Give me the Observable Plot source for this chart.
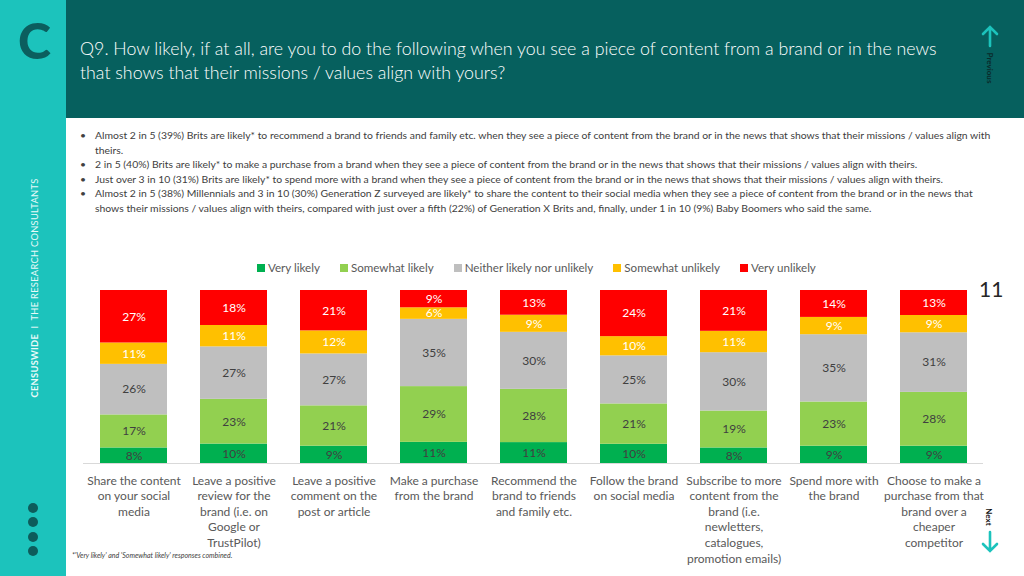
<!DOCTYPE html>
<html>
<head>
<meta charset="utf-8">
<script src="https://cdn.jsdelivr.net/npm/d3@7"></script>
<script src="https://cdn.jsdelivr.net/npm/@observablehq/plot@0.6"></script>
<style>
  html, body { margin: 0; padding: 0; }
  body { width: 1024px; height: 576px; overflow: hidden; position: relative; background: #ffffff; font-family: Lato, "Open Sans", sans-serif; }
  .abs { position: absolute; }
  #sidebar { left: 0; top: 0; width: 66px; height: 576px; background: #1cc3bc; }
  #header { left: 66px; top: 0; width: 958px; height: 118px; background: #06605e; }
  #logo { left: 18px; top: 10px; font-size: 50px; font-weight: 900; color: #0b5e5e; font-family: Lato, sans-serif; line-height: 60px; }
  #title { left: 80px; top: 36px; color: #ffffff; font-size: 17.8px; line-height: 24px; font-weight: 300; white-space: nowrap; }
  #bullets { left: 80px; top: 128px; color: #404040; font-size: 10.4px; line-height: 14.6px; white-space: nowrap; }
  #bullets .b { position: relative; padding-left: 15px; }
  #bullets .b::before { content: "•"; position: absolute; left: 0; top: 0; }
  #vert { left: 34px; top: 288px; transform: translate(-50%, -50%) rotate(-90deg); color: #e8faf9; font-size: 9.3px; white-space: nowrap; letter-spacing: 0.3px; }
  #legend { left: 257px; top: 261px; display: flex; gap: 20px; font-size: 11.6px; color: #595959; white-space: nowrap; }
  #legend .item { display: flex; align-items: center; }
  #legend .sw { width: 8px; height: 8px; margin-right: 3px; }
  #page { left: 979px; top: 276px; font-size: 21px; color: #262626; }
  #foot { left: 72px; top: 551px; font-size: 7px; font-style: italic; color: #404040; white-space: nowrap; }
  .rot { transform: translate(-50%, -50%) rotate(90deg); font-weight: 700; font-size: 8px; white-space: nowrap; }
  #chart { left: 0; top: 285px; }
</style>
</head>
<body>
<div id="sidebar" class="abs"></div>
<div id="header" class="abs"></div>
<div id="logo" class="abs">C</div>
<div id="title" class="abs">Q9. How likely, if at all, are you to do the following when you see a piece of content from a brand or in the news<br>that shows that their missions / values align with yours?</div>
<div id="bullets" class="abs">
  <div class="b">Almost 2 in 5 (39%) Brits are likely* to recommend a brand to friends and family etc. when they see a piece of content from the brand or in the news that shows that their missions / values align with<br>theirs.</div>
  <div class="b">2 in 5 (40%) Brits are likely* to make a purchase from a brand when they see a piece of content from the brand or in the news that shows that their missions / values align with theirs.</div>
  <div class="b">Just over 3 in 10 (31%) Brits are likely* to spend more with a brand when they see a piece of content from the brand or in the news that shows that their missions / values align with theirs.</div>
  <div class="b">Almost 2 in 5 (38%) Millennials and 3 in 10 (30%) Generation Z surveyed are likely* to share the content to their social media when they see a piece of content from the brand or in the news that<br>shows their missions / values align with theirs, compared with just over a fifth (22%) of Generation X Brits and, finally, under 1 in 10 (9%) Baby Boomers who said the same.</div>
</div>
<div id="vert" class="abs"><b>CENSUSWIDE</b> &nbsp;I&nbsp; THE RESEARCH CONSULTANTS</div>
<svg class="abs" style="left:0;top:0" width="66" height="576">
  <circle cx="33" cy="508" r="5" fill="#0d5c5b"/>
  <circle cx="33" cy="522" r="5" fill="#0d5c5b"/>
  <circle cx="33" cy="537" r="5" fill="#0d5c5b"/>
  <circle cx="33" cy="551" r="5" fill="#0d5c5b"/>
</svg>
<svg class="abs" style="left:975px;top:20px" width="30" height="30">
  <path d="M15 26 V8 M8 14 L15 7 L22 14" stroke="#1cc3bc" stroke-width="2.6" fill="none" stroke-linecap="round"/>
</svg>
<div class="abs rot" style="left:990px;top:68px;color:#0a2a2a;">Previous</div>
<div class="abs rot" style="left:989px;top:517px;color:#111;">Next</div>
<svg class="abs" style="left:975px;top:528px" width="30" height="30">
  <path d="M15 4 V22 M8 16 L15 23 L22 16" stroke="#1cc3bc" stroke-width="2.6" fill="none" stroke-linecap="round"/>
</svg>
<div id="legend" class="abs"></div>
<div id="page" class="abs">11</div>
<div id="chart" class="abs"></div>
<div id="foot" class="abs">*'Very likely' and 'Somewhat likely' responses combined.</div>
<script>
const categories = [
  "Share the content on your social media",
  "Leave a positive review for the brand",
  "Leave a positive comment on the post or article",
  "Make a purchase from the brand",
  "Recommend the brand to friends and family etc.",
  "Follow the brand on social media",
  "Subscribe to more content from the brand",
  "Spend more with the brand",
  "Choose to make a purchase from that brand over a cheaper competitor"
];
const tickLabels = [
  "Share the content\non your social\nmedia",
  "Leave a positive\nreview for the\nbrand (i.e. on\nGoogle or\nTrustPilot)",
  "Leave a positive\ncomment on the\npost or article",
  "Make a purchase\nfrom the brand",
  "Recommend the\nbrand to friends\nand family etc.",
  "Follow the brand\non social media",
  "Subscribe to more\ncontent from the\nbrand (i.e.\nnewletters,\ncatalogues,\npromotion emails)",
  "Spend more with\nthe brand",
  "Choose to make a\npurchase from that\nbrand over a\ncheaper\ncompetitor"
];
const seriesNames = ["Very likely", "Somewhat likely", "Neither likely nor unlikely", "Somewhat unlikely", "Very unlikely"];
const seriesColors = ["#00b050", "#92d050", "#bfbfbf", "#ffc000", "#ff0000"];
const veryLikely       = [8, 10, 9, 11, 11, 10, 8, 9, 9];
const somewhatLikely   = [17, 23, 21, 29, 28, 21, 19, 23, 28];
const neither          = [26, 27, 27, 35, 30, 25, 30, 35, 31];
const somewhatUnlikely = [11, 11, 12, 6, 9, 10, 11, 9, 9];
const veryUnlikely     = [27, 18, 21, 9, 13, 24, 21, 14, 13];

const seriesValues = [veryLikely, somewhatLikely, neither, somewhatUnlikely, veryUnlikely];
const lightLabelSeries = new Set(["Somewhat unlikely", "Very unlikely"]);
const rows = categories.flatMap((c, i) => seriesNames.map((s, j) => ({category: c, series: s, value: seriesValues[j][i]})));

// legend
const legend = document.getElementById("legend");
seriesNames.forEach((s, j) => {
  const it = document.createElement("div");
  it.className = "item";
  it.innerHTML = `<span class="sw" style="background:${seriesColors[j]}"></span><span>${s}</span>`;
  legend.appendChild(it);
});

const stackOpts = (extra) => Plot.stackY({offset: "normalize", order: seriesNames, x: "category", y: "value", z: "series", ...extra});

const chart = Plot.plot({
  width: 1024,
  height: 291,
  marginTop: 5,
  marginBottom: 113,
  marginLeft: 83,
  marginRight: 41,
  style: {fontFamily: "Lato, 'Open Sans', sans-serif", background: "transparent"},
  x: {domain: categories, paddingInner: 0.33, paddingOuter: 0.165, axis: null},
  y: {domain: [0, 1], axis: null},
  color: {domain: seriesNames, range: seriesColors},
  marks: [
    Plot.barY(rows, stackOpts({fill: "series"})),
    Plot.text(rows, stackOpts({text: d => lightLabelSeries.has(d.series) ? d.value + "%" : null, fill: "#ffffff", fontSize: 12})),
    Plot.text(rows, stackOpts({text: d => lightLabelSeries.has(d.series) ? null : d.value + "%", fill: "#404040", fontSize: 12})),
    Plot.ruleY([0], {stroke: "#d9d9d9", strokeWidth: 1}),
    Plot.text(categories, {x: d => d, text: (d, i) => tickLabels[i], frameAnchor: "bottom", lineAnchor: "top", dy: 10, fontSize: 12, fill: "#595959", lineHeight: 1.3})
  ]
});
document.getElementById("chart").appendChild(chart);
</script>
</body>
</html>
